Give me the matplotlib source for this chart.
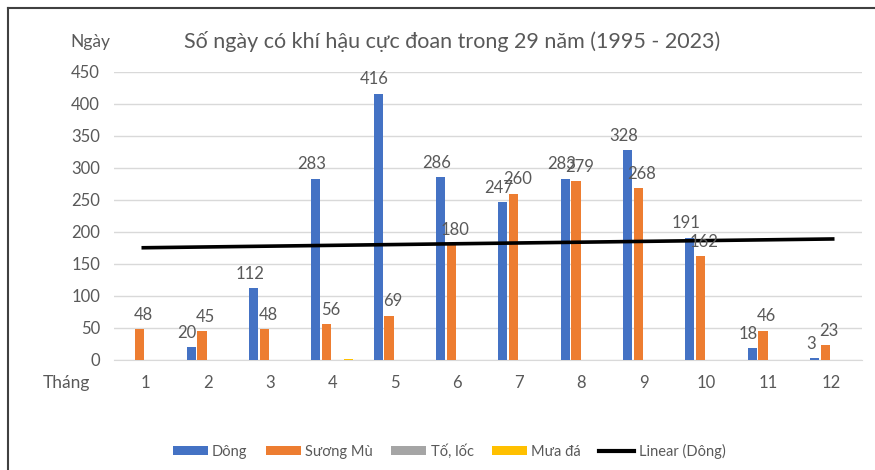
import numpy as np
import matplotlib.pyplot as plt
from matplotlib.lines import Line2D

# ------------------------------------------------------------------------------
# DATA
# ------------------------------------------------------------------------------
thang = [1, 2, 3, 4, 5, 6, 7, 8, 9, 10, 11, 12]
dong = [0, 20, 112, 283, 416, 286, 247, 283, 328, 191, 18, 3]
suong_mu = [48, 45, 48, 56, 69, 180, 260, 279, 268, 162, 46, 23]
to_loc = [0, 0, 0, 0, 0, 0, 0, 0, 0, 0, 0, 0]
mua_da = [0, 0, 0, 2, 0, 0, 0, 0, 0, 0, 0, 0]

series = [
    ('Dông', dong, '#4472C4', -0.06),
    ('Sương Mù', suong_mu, '#ED7D31', 0.06),
    ('Tố, lốc', to_loc, '#A5A5A5', None),
    ('Mưa đá', mua_da, '#FFC000', None),
]

plt.rcParams['font.family'] = ['Lato', 'DejaVu Sans']
grey_txt = '#595959'

fig = plt.figure(figsize=(8.75, 4.7), dpi=100)
ax = fig.add_axes([114 / 875, 1 - 360 / 470, (862 - 114) / 875, (360 - 72) / 470])

x = np.arange(len(thang))
w = 0.145
step = 0.176
handles = []
for i, (name, vals, col, dx) in enumerate(series):
    pos = x + (i - 1.5) * step
    b = ax.bar(pos, vals, width=w, color=col, label=name, zorder=3)
    handles.append(b)
    if dx is not None:
        for p, v in zip(pos, vals):
            if v > 0:
                ax.text(p + dx, v + 10, str(v), ha='center', va='bottom',
                        fontsize=12, color=grey_txt, zorder=5)

# duong xu huong tuyen tinh cho Dong
k, c = np.polyfit(np.array(thang), np.array(dong), 1)
ax.plot([x[0] - 0.03, x[-1] + 0.03],
        [k * (thang[0] - 0.03) + c, k * (thang[-1] + 0.03) + c],
        color='black', lw=2.6, zorder=4)
handles.append(Line2D([], [], color='black', lw=3))

ax.set_xlim(-0.5, len(thang) - 0.5)
ax.set_ylim(0, 450)
ax.set_yticks(range(0, 451, 50))
ax.set_xticks(x)
ax.set_xticklabels([str(t) for t in thang])
ax.tick_params(axis='both', length=0, labelsize=12, colors=grey_txt)
ax.tick_params(axis='y', pad=10)
ax.tick_params(axis='x', pad=11)
ax.grid(axis='y', color='#D9D9D9', lw=1, zorder=0)
for s in ['top', 'right', 'left']:
    ax.spines[s].set_visible(False)
ax.spines['bottom'].set_color('#D9D9D9')

fig.text(452 / 875, 1 - 42 / 470, 'Số ngày có khí hậu cực đoan trong 29 năm (1995 - 2023)',
         ha='center', va='center', fontsize=15.5, color=grey_txt)
fig.text(90 / 875, 1 - 42 / 470, 'Ngày', ha='center', va='center', fontsize=12.5, color=grey_txt)
fig.text(66 / 875, 1 - 383 / 470, 'Tháng', ha='center', va='center', fontsize=12.5, color=grey_txt)

fig.legend(handles, ['Dông', 'Sương Mù', 'Tố, lốc', 'Mưa đá', 'Linear (Dông)'],
           loc='center', bbox_to_anchor=(449 / 875, 1 - 451 / 470), ncol=5,
           frameon=False, fontsize=10.5, labelcolor=grey_txt,
           handlelength=2.4, handleheight=0.55, handletextpad=0.3, columnspacing=1.25)

# khung vien
fig.add_artist(Line2D([8 / 875, 8 / 875], [0, 1 - 8 / 470], color='#404040', lw=1.5))
fig.add_artist(Line2D([8 / 875, 1], [1 - 8 / 470, 1 - 8 / 470], color='#404040', lw=1.5))

fig.savefig('out.png', dpi=100)
